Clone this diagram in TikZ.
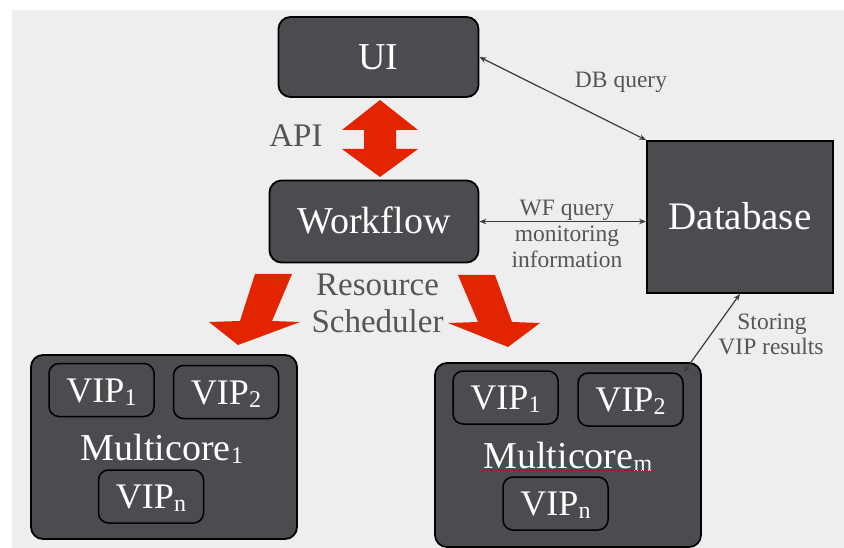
\documentclass[tikz,border=0pt]{standalone}
\usepackage{fontspec}
\setmainfont{Liberation Serif}
\usetikzlibrary{arrows.meta}
\definecolor{boxgray}{HTML}{4B4B50}
\definecolor{paper}{HTML}{EEEEEE}
\definecolor{labelgray}{HTML}{555555}
\definecolor{blockred}{HTML}{E22400}
\definecolor{linkgray}{HTML}{3C3C3C}
\newcommand\fsz[1]{\fontsize{#1}{#1}\selectfont}
\newcommand\subidx[1]{\kern0.3pt\raisebox{-3pt}{\fsz{24}#1}}

\begin{document}
\begin{tikzpicture}[x=1pt,y=-1pt,
  panel/.style={draw=black, line width=1.8pt, fill=boxgray, text=white,
    rounded corners=12pt, inner sep=0pt, text height=25pt, text depth=0pt,
    font=\fsz{38}},
  core/.style={draw=black, line width=1.8pt, fill=boxgray,
    rounded corners=12pt, inner sep=0pt},
  vip/.style={draw=black, line width=1.5pt, fill=boxgray, text=white,
    rounded corners=10pt, inner sep=0pt, text height=24pt, text depth=0pt,
    minimum width=105pt, minimum height=53pt, font=\fsz{36}},
  corelabel/.style={anchor=base, text=white, inner sep=0pt, font=\fsz{38}},
  note/.style={anchor=base, text=labelgray, inner sep=0pt, font=\fsz{23.5}},
  bignote/.style={anchor=base, text=labelgray, inner sep=0pt, font=\fsz{33}},
  link/.style={draw=linkgray, line width=1.2pt,
    arrows={Stealth[length=7pt,width=5.5pt]-Stealth[length=7pt,width=5.5pt]}},
  blockarrow/.style={fill=blockred, draw=none}
]
\useasboundingbox (0,0) rectangle (844,548);
\fill[white] (0,0) rectangle (844,548);
\fill[paper] (12,10) rectangle (844,548);

% main components
\node[panel, minimum width=200pt, minimum height=80pt] (ui) at (378.5,57) {UI};
\node[panel, minimum width=209pt, minimum height=82pt] (wf) at (374,221.5) {Workflow};
\node[panel, rounded corners=0pt, minimum width=186pt, minimum height=152pt,
  font=\fsz{39}] (db) at (740,217) {Database};

% first multicore node
\node[core, minimum width=266pt, minimum height=184pt] (mc1) at (164,447) {};
\node[vip] (avip1) at (101.5,390) {VIP\subidx{1}};
\node[vip] (avip2) at (226,392) {VIP\subidx{2}};
\node[vip] (avipn) at (151,496.5) {VIP\subidx{n}};
\node[corelabel] (mc1lab) at (162,460) {Multicore\subidx{1}};

% last multicore node
\node[core, minimum width=266pt, minimum height=184pt] (mcm) at (568,455) {};
\node[vip] (bvip1) at (505.5,397.5) {VIP\subidx{1}};
\node[vip] (bvip2) at (630.5,399.5) {VIP\subidx{2}};
\node[vip] (bvipn) at (555.5,503.5) {VIP\subidx{n}};
\node[corelabel] (mcmlab) at (568,468) {Multicore\subidx{m}};
\draw[red!80!black, densely dotted, line width=0.8pt]
  ([yshift=-2.5pt]mcmlab.base west) -- ([yshift=-2.5pt]mcmlab.base east);

% block arrows
\path[blockarrow] (380,100) -- (418,130) -- (396,130) -- (396,149) -- (418,149)
  -- (380,177) -- (342,149) -- (364,149) -- (364,130) -- (342,130) -- cycle;
\path[blockarrow] (255,274) -- (292,274) -- (272,321) -- (300,322) -- (238,345)
  -- (209,322) -- (240,321) -- cycle;
\path[blockarrow] (458,275) -- (495,275) -- (512,322) -- (540,323) -- (508,347)
  -- (448,323) -- (478,322) -- cycle;

% labels
\node[bignote] (api) at (296,147) {API};
\node[bignote] (rs1) at (377.5,296) {Resource};
\node[bignote] (rs2) at (377.5,333) {Scheduler};

% database links
\draw[link] (ui.east) -- (db.north west);
\draw[link] (wf.east) -- (wf.east -| db.west);
\draw[link] (bvip2.north east) -- (db.south);

\node[note] (dbq) at (621,88) {DB query};
\node[note] (wfq1) at (567,216) {WF query};
\node[note] (wfq2) at (567,242) {monitoring};
\node[note] (wfq3) at (567,268) {information};
\node[note] (st1) at (772,330) {Storing};
\node[note] (st2) at (771,354) {VIP results};
\end{tikzpicture}
\end{document}
